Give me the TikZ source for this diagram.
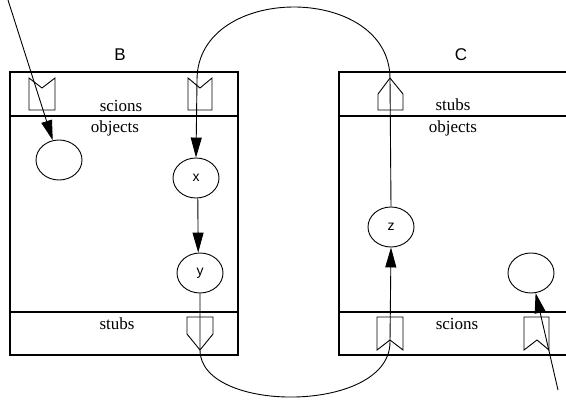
\documentclass[tikz,border=0pt]{standalone}
\usepackage{fontspec}
\setmainfont{Liberation Serif}
\newfontfamily\labelfont{Liberation Sans}
\usetikzlibrary{shapes.geometric}
\usetikzlibrary{arrows.meta}

\begin{document}
\begin{tikzpicture}[x=1pt, y=-1pt, line width=.9pt,
  obj/.style={draw, ellipse, minimum width=46pt, minimum height=40pt, inner sep=0pt, font=\labelfont\fontsize{14}{16}\selectfont},
  part/.style={font=\fontsize{17}{19}\selectfont, anchor=base, inner sep=0pt},
  title/.style={font=\labelfont\fontsize{17}{20}\selectfont, inner sep=0pt},
  link/.style={-{Triangle[length=20pt,width=11pt]}}]
\useasboundingbox (0,0) rectangle (566,402);
\clip (0,0) rectangle (566,402);
\draw[line width=1.1pt] (10,72) rectangle (238,355);
\draw[line width=1.1pt] (10,116) -- (238,116);
\draw[line width=1.1pt] (10,312) -- (238,312);
\draw[line width=1.1pt] (339,72) rectangle (570,355);
\draw[line width=1.1pt] (339,116) -- (570,116);
\draw[line width=1.1pt] (339,312) -- (570,312);
\draw (29,110) -- (29,78) -- (42,88) -- (55,78) -- (55,110) -- cycle;
\draw (188,110) -- (188,78) -- (200,88) -- (212,78) -- (212,110) -- cycle;
\draw (187,317) -- (213,317) -- (213,334) -- (200,350) -- (187,334) -- cycle;
\draw (378,110) -- (378,94) -- (390,78) -- (403,94) -- (403,110) -- cycle;
\draw (377,317) -- (403,317) -- (403,350) -- (390,340) -- (377,350) -- cycle;
\draw (524,317) -- (549,317) -- (549,350) -- (537,340) -- (524,350) -- cycle;
\node[title] (B) at (120,55) {B};
\node[title] (C) at (461,55) {C};
\node[part] (bsci) at (121,111) {scions};
\node[part] (bobj) at (115,132) {objects};
\node[part] (bstu) at (117,329) {stubs};
\node[part] (cstu) at (453,110) {stubs};
\node[part] (cobj) at (453,132) {objects};
\node[part] (csci) at (457,329) {scions};
\node[obj] (bo) at (59,160) {};
\node[obj] (x) at (196,178) {x};
\node[obj] (y) at (200,273) {y};
\node[obj] (z) at (391,227) {z};
\node[obj] (co) at (531,273) {};
\coordinate (inb) at (8,0);
\coordinate (inc) at (558,390);
\coordinate (bsc) at (197,80);
\coordinate (cst) at (390,78);
\coordinate (bst) at (200,350);
\coordinate (csc) at (390,342);
\draw[link] (inb) -- (bo);
\draw[link] (z.north) -- (cst) .. controls (389,-17) and (197,-17) .. (bsc) -- (x.north);
\draw[link] (x.-85) -- (y.95);
\draw[link] (y.south) -- (bst) .. controls (200,414) and (390,414) .. (csc) -- (z.south);
\draw[link] (inc) -- (co);
\end{tikzpicture}
\end{document}
